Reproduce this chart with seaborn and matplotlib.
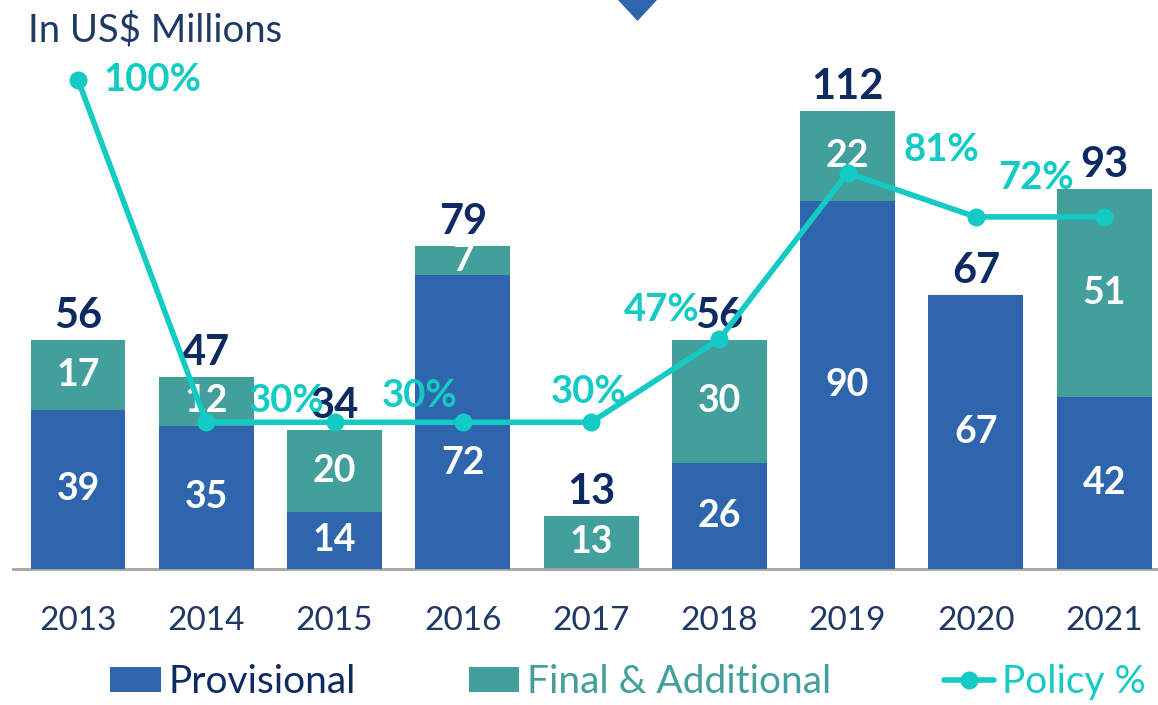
import numpy as np
import pandas as pd
import matplotlib
matplotlib.use("Agg")
import matplotlib.pyplot as plt
from matplotlib.patches import Patch, Polygon
from matplotlib.lines import Line2D
import seaborn as sns

years = ["2013", "2014", "2015", "2016", "2017", "2018", "2019", "2020", "2021"]
provisional = [39, 35, 14, 72, 0, 26, 90, 67, 42]
final_additional = [17, 12, 20, 7, 13, 30, 22, 0, 51]
policy_pct = [100, 30, 30, 30, 30, 47, 81, 72, 72]

# label offsets (pixels) for the policy % annotations; None = not labelled
pct_offsets = [(74, 0), (80, 21), (85, 26), None, (-2, 30), (-58, 29), (94, 23), (60, 39), None]
# vertical nudge (pixels) of the provisional value labels, to keep clear of the line
prov_nudge = [0, 0, 0, -41, 0, 0, 0, 0, 0]

C_PROV = "#2E65AD"
C_FINAL = "#429F9B"
C_LINE = "#13CBC4"
C_NAVY = "#0E2A63"
C_TICK = "#1F3864"

sns.set_theme(style="white")
plt.rcParams["font.family"] = ["Lato", "DejaVu Sans"]

totals = [p + f for p, f in zip(provisional, final_additional)]
df = pd.DataFrame({"year": years, "prov": provisional, "final": final_additional,
                   "total": totals, "pct": policy_pct})

fig = plt.figure(figsize=(11.58, 7.05), dpi=100)
W, H = 1158, 705
ax = fig.add_axes([13 / W, 136 / H, (W - 13) / W, (569 - 58) / H])

# stacked bars: total in teal, provisional drawn over it from the baseline
sns.barplot(data=df, x="year", y="total", color=C_FINAL, width=0.74,
            saturation=1, ax=ax, zorder=2)
sns.barplot(data=df, x="year", y="prov", color=C_PROV, width=0.74,
            saturation=1, ax=ax, zorder=3)
for p in ax.patches:
    p.set_edgecolor("none")

ax.set_xlim(-0.507, 8.42)
ax.set_ylim(0, 125)
ax.set_xlabel("")
ax.set_ylabel("")
ax.set_yticks([])
for s in ["top", "right", "left"]:
    ax.spines[s].set_visible(False)
ax.spines["bottom"].set_color("#A6A6A6")
ax.spines["bottom"].set_linewidth(2)
ax.tick_params(axis="x", length=0, pad=27, labelsize=24, labelcolor=C_TICK)

# value labels
for i, (p, f, t) in enumerate(zip(provisional, final_additional, totals)):
    if p > 0:
        ax.annotate(str(p), (i, p / 2), xytext=(0, prov_nudge[i]),
                    textcoords="offset pixels", ha="center", va="center",
                    color="white", fontsize=27, fontweight="bold", zorder=6)
    if f > 0:
        ax.text(i, p + f / 2, str(f), ha="center", va="center", color="white",
                fontsize=27, fontweight="bold", zorder=6)
    ax.annotate(str(t), (i, t), xytext=(0, 5), textcoords="offset pixels",
                ha="center", va="bottom", color=C_NAVY, fontsize=30,
                fontweight="bold", zorder=7)

# policy % line on a secondary axis
ax2 = ax.twinx()
sns.lineplot(x=np.arange(len(years)), y=df["pct"], ax=ax2, color=C_LINE,
             linewidth=4, marker="o", markersize=13, markeredgewidth=0, zorder=5)
ax2.set_xlim(-0.507, 8.42)
ax2.set_ylim(0, 104.5)
ax2.set_yticks([])
ax2.set_ylabel("")
for s in ["top", "right", "left", "bottom"]:
    ax2.spines[s].set_visible(False)
for i, (v, off) in enumerate(zip(policy_pct, pct_offsets)):
    if off is None:
        continue
    ax2.annotate(f"{v}%", (i, v), xytext=off, textcoords="offset pixels",
                 ha="center", va="center", color=C_LINE, fontsize=27.5,
                 fontweight="bold", zorder=8)

# header text and marker triangle
fig.text(28 / W, 1 - 42 / H, "In US$ Millions", color=C_TICK, fontsize=27.5,
         va="baseline", ha="left")
fig.patches.append(Polygon([[618 / W, 1.0], [657 / W, 1.0], [637.5 / W, 1 - 21 / H]],
                           closed=True, transform=fig.transFigure,
                           facecolor=C_PROV, edgecolor="none"))

handles = [Patch(facecolor=C_PROV, edgecolor="none"),
           Patch(facecolor=C_FINAL, edgecolor="none"),
           Line2D([], [], color=C_LINE, linewidth=4, marker="o", markersize=13,
                  markeredgewidth=0)]
leg = fig.legend(handles, ["Provisional", "Final & Additional", "Policy %"],
                 loc="center", bbox_to_anchor=(628 / W, 1 - 682 / H), ncol=3,
                 frameon=False, fontsize=28, handlelength=1.3, handleheight=0.6,
                 handletextpad=0.2, columnspacing=2.9)
for txt, c in zip(leg.get_texts(), [C_NAVY, C_FINAL, C_LINE]):
    txt.set_color(c)

fig.savefig("out.png", dpi=100)
